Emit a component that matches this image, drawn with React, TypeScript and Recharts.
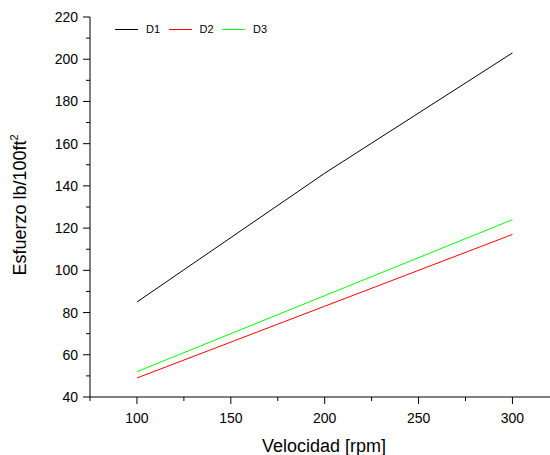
import { LineChart, Line, XAxis, YAxis } from 'recharts';

const rpm = [100, 200, 300];
const d1 = [85, 146, 203];
const d2 = [49, 83, 117];
const d3 = [52, 88, 124];

const xTicks = [75, 100, 125, 150, 175, 200, 225, 250, 275, 300];
const yTicks = [40, 50, 60, 70, 80, 90, 100, 110, 120, 130, 140, 150, 160, 170, 180, 190, 200, 210, 220];

const series = [
  { key: 'D1', color: '#000000' },
  { key: 'D2', color: '#ff0000' },
  { key: 'D3', color: '#00ff00' },
];

const data = rpm.map((r, i) => ({ rpm: r, D1: d1[i], D2: d2[i], D3: d3[i] }));

const FONT = '"Liberation Sans", Arial, sans-serif';

const XTick = (props: any) => {
  const { x, y, payload } = props;
  const major = payload.value % 50 === 0;
  return (
    <g>
      <line x1={x} x2={x} y1={y} y2={y + (major ? 7 : 4)} stroke="#000" />
      {major && payload.value !== 75 && (
        <text x={x} y={y + 26} textAnchor="middle" fontSize={14} fontFamily={FONT} fill="#000">
          {payload.value}
        </text>
      )}
    </g>
  );
};

const YTick = (props: any) => {
  const { x, y, payload } = props;
  const major = payload.value % 20 === 0;
  return (
    <g>
      <line x1={x - (major ? 7 : 4)} x2={x} y1={y} y2={y} stroke="#000" />
      {major && (
        <text x={x - 12} y={y} dy="0.36em" textAnchor="end" fontSize={14} fontFamily={FONT} fill="#000">
          {payload.value}
        </text>
      )}
    </g>
  );
};

const YLabel = () => (
  <text
    x={26}
    y={205}
    transform="rotate(-90 26 205)"
    textAnchor="middle"
    fontSize={18}
    fontFamily={FONT}
    fill="#000"
  >
    Esfuerzo lb/100ft
    <tspan dy={-8} fontSize={11}>2</tspan>
  </text>
);

const XLabel = () => (
  <text x={324} y={452} textAnchor="middle" fontSize={18} fontFamily={FONT} fill="#000">
    Velocidad [rpm]
  </text>
);

function LegendBox() {
  return (
    <div
      style={{
        position: 'absolute',
        left: 115,
        top: 23,
        display: 'flex',
        fontFamily: FONT,
        fontSize: 11,
        color: '#000',
        lineHeight: '12px',
      }}
    >
      {series.map((s) => (
        <div key={s.key} style={{ display: 'flex', alignItems: 'center', flex: '0 0 53.5px' }}>
          <div style={{ width: 23, height: 0, borderTop: `1px solid ${s.color}`, marginRight: 8 }} />
          <span>{s.key}</span>
        </div>
      ))}
    </div>
  );
}

export default function App() {
  return (
    <div style={{ position: 'absolute', left: 0, top: 0, width: 550, height: 455, background: '#fff' }}>
      <LineChart width={550} height={455} data={data} margin={{ top: 17, right: 0, left: 0, bottom: 0 }}>
        <XAxis
          dataKey="rpm"
          type="number"
          domain={[75, 320]}
          ticks={xTicks}
          allowDataOverflow
          height={58}
          tickSize={0}
          tickMargin={0}
          tickLine={false}
          tick={<XTick />}
          axisLine={{ stroke: '#000' }}
          interval={0}
          label={<XLabel />}
        />
        <YAxis
          type="number"
          domain={[40, 220]}
          ticks={yTicks}
          width={90}
          tickSize={0}
          tickMargin={0}
          tickLine={false}
          tick={<YTick />}
          axisLine={{ stroke: '#000' }}
          interval={0}
          label={<YLabel />}
        />
        {series.map((s) => (
          <Line
            key={s.key}
            dataKey={s.key}
            stroke={s.color}
            strokeWidth={1}
            dot={false}
            activeDot={false}
            isAnimationActive={false}
          />
        ))}
      </LineChart>
      <LegendBox />
    </div>
  );
}
